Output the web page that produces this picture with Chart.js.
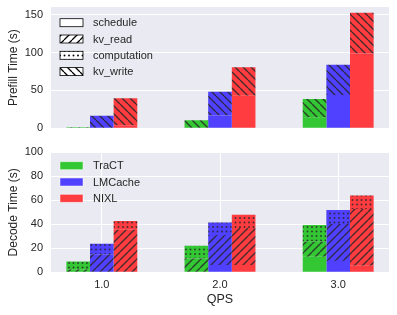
<!DOCTYPE html>
<html>
<head>
<meta charset="utf-8">
<script src="https://cdn.jsdelivr.net/npm/chart.js@4.4.1/dist/chart.umd.min.js"></script>
<style>
  html, body { margin: 0; padding: 0; background: #fff; }
  #top { position: absolute; left: 0; top: 0; width: 397px; height: 140px; }
  #bot { position: absolute; left: 0; top: 140px; width: 397px; height: 175px; }
</style>
</head>
<body>
<div id="top"><canvas id="prefill"></canvas></div>
<div id="bot"><canvas id="decode"></canvas></div>
<script>
const qps = [1.0, 2.0, 3.0];
const systems = ["TraCT", "LMCache", "NIXL"];
const stages = ["schedule", "kv_read", "computation", "kv_write"];

// rows: TraCT, LMCache, NIXL -- columns follow qps
const prefillSchedule    = [[0, 0, 14],     [0, 17, 44],     [4, 43, 98]];
const prefillKvRead      = [[0, 0, 0],      [0, 0, 0],       [0, 0, 0]];
const prefillComputation = [[0, 0, 0.8],    [0, 0, 0],       [0, 0, 0.8]];
const prefillKvWrite     = [[1.3, 10.6, 24],[16.7, 31.3, 39.8],[35.7, 37.6, 53.5]];

const decodeSchedule    = [[0, 0, 13],      [0, 6, 9.4],     [0.5, 6, 5.5]];
const decodeKvRead      = [[2.5, 11.6, 12.5],[15, 25, 30.8], [35, 31, 47.2]];
const decodeComputation = [[6.4, 10.6, 13.9],[8.8, 10.6, 11.7],[7.3, 11, 11.2]];
const decodeKvWrite     = [[0, 0, 0],       [0, 0, 0],       [0, 0, 0]];

const systemColors = ["#33c833", "#5040ff", "#ff3c40"];
const stageHatch = ["", "/", ".", "\\"];

Chart.defaults.font.family = "'Liberation Sans', Arial, sans-serif";
Chart.defaults.color = "#262626";

function hatch(base, kind, ink, lw) {
  if (!kind) return base;
  const s = kind === "." ? 9 : 8;
  const c = document.createElement("canvas");
  c.width = s; c.height = s;
  const g = c.getContext("2d");
  g.fillStyle = base;
  g.fillRect(0, 0, s, s);
  g.fillStyle = ink;
  g.strokeStyle = ink;
  g.lineWidth = lw;
  if (kind === ".") {
    for (const dx of [1.5, 6]) for (const dy of [1.5, 6]) {
      g.beginPath(); g.arc(dx, dy, 0.95, 0, Math.PI * 2); g.fill();
    }
  } else {
    g.beginPath();
    for (const k of [-s, 0, s]) {
      if (kind === "/") { g.moveTo(k, s); g.lineTo(k + s, 0); }
      else { g.moveTo(k, 0); g.lineTo(k + s, s); }
    }
    g.stroke();
  }
  return g.createPattern(c, "repeat");
}

const bgPlugin = {
  id: "bg",
  beforeDraw(chart) {
    const { ctx, chartArea: a } = chart;
    ctx.save();
    ctx.fillStyle = "#eaeaf2";
    ctx.fillRect(a.left, a.top, a.right - a.left, a.bottom - a.top);
    ctx.restore();
  }
};

function boxLegend(items, firstRow) {
  return {
    id: "boxLegend",
    afterDraw(chart) {
      const { ctx, chartArea: a } = chart;
      ctx.save();
      ctx.font = "11px 'Liberation Sans', Arial, sans-serif";
      ctx.textBaseline = "middle";
      items.forEach((it, i) => {
        const y = a.top + firstRow + i * 16.3;
        const x = a.left + 9;
        ctx.fillStyle = it.fill;
        ctx.fillRect(x, y - 4, 23, 8);
        ctx.strokeStyle = it.edge;
        ctx.lineWidth = 0.8;
        ctx.strokeRect(x, y - 4, 23, 8);
        ctx.fillStyle = "#262626";
        ctx.fillText(it.text, a.left + 42, y + 0.5);
      });
      ctx.restore();
    }
  };
}

function makeDatasets(parts) {
  const out = [];
  systems.forEach((sys, si) => {
    parts.forEach((arr, ti) => {
      out.push({
        label: sys + " " + stages[ti],
        stack: sys,
        data: qps.map((q, j) => ({ x: q, y: arr[si][j] })),
        backgroundColor: hatch(systemColors[si], stageHatch[ti], "rgba(40,40,40,0.85)", 1.4),
        borderWidth: 0,
        categoryPercentage: 0.6,
        barPercentage: 1.0
      });
    });
  });
  return out;
}

function yAxis(max, step, title) {
  return {
    stacked: true, min: 0, max: max,
    ticks: { stepSize: step, includeBounds: false, padding: 8, font: { size: 11 } },
    grid: { color: "#ffffff", lineWidth: 1, drawTicks: false },
    border: { display: false },
    title: { display: true, text: title, font: { size: 12 }, padding: { top: 6, bottom: 0 } },
    afterFit(s) { s.width = 51; s.paddingTop = 0; s.paddingBottom = 0; }
  };
}

function xAxis(show) {
  const ax = {
    type: "linear", min: 0.57, max: 3.43, offset: false,
    afterBuildTicks(s) { s.ticks = qps.map(v => ({ value: v })); }
  };
  if (!show) { ax.display = false; return ax; }
  return Object.assign(ax, {
    ticks: { padding: 6, font: { size: 11 }, callback: v => Number(v).toFixed(1) },
    grid: { color: "#ffffff", lineWidth: 1, drawTicks: false, offset: false },
    border: { display: false },
    title: { display: true, text: "QPS", font: { size: 12.5 }, padding: { top: 0, bottom: 7.5 } },
    afterFit(s) { s.height = 42.7; s.paddingLeft = 0; s.paddingRight = 0; }
  });
}

const prefillLegend = stages.map((st, i) => ({
  text: st, fill: hatch("#ffffff", stageHatch[i], "#000000", 1.3), edge: "#000000"
}));
const decodeLegend = systems.map((sys, i) => ({
  text: sys, fill: systemColors[i], edge: "rgba(255,255,255,0.6)"
}));

new Chart(document.getElementById("prefill").getContext("2d"), {
  type: "bar",
  data: { datasets: makeDatasets([prefillSchedule, prefillKvRead, prefillComputation, prefillKvWrite]) },
  options: {
    responsive: true, maintainAspectRatio: false, animation: false,
    layout: { padding: { top: 7, bottom: 11.7, left: 0, right: 8 } },
    plugins: { legend: { display: false }, tooltip: { enabled: false } },
    scales: { x: xAxis(false), y: yAxis(160, 50, "Prefill Time (s)") }
  },
  plugins: [bgPlugin, boxLegend(prefillLegend, 15.7)]
});

new Chart(document.getElementById("decode").getContext("2d"), {
  type: "bar",
  data: { datasets: makeDatasets([decodeSchedule, decodeKvRead, decodeComputation, decodeKvWrite]) },
  options: {
    responsive: true, maintainAspectRatio: false, animation: false,
    layout: { padding: { top: 12.3, bottom: 0, left: 0, right: 8 } },
    plugins: { legend: { display: false }, tooltip: { enabled: false } },
    scales: { x: xAxis(true), y: yAxis(100, 20, "Decode Time (s)") }
  },
  plugins: [bgPlugin, boxLegend(decodeLegend, 13.4)]
});
</script>
</body>
</html>
